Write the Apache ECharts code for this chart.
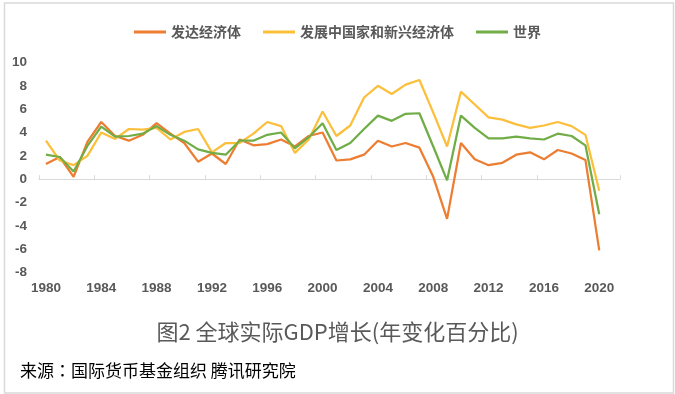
<!DOCTYPE html>
<html>
<head>
<meta charset="utf-8">
<script src="https://cdn.jsdelivr.net/npm/echarts@6/dist/echarts.min.js"></script>
<style>
html,body{margin:0;padding:0;background:#fff;}
#chart{width:675px;height:394px;}
</style>
</head>
<body>
<div id="chart"></div>
<script>
const years = ['1980','1981','1982','1983','1984','1985','1986','1987','1988','1989',
  '1990','1991','1992','1993','1994','1995','1996','1997','1998','1999',
  '2000','2001','2002','2003','2004','2005','2006','2007','2008','2009',
  '2010','2011','2012','2013','2014','2015','2016','2017','2018','2019',
  '2020','2021'];
const developed = [1.3,1.9,0.2,3.2,4.9,3.7,3.3,3.8,4.8,3.9,
  3.1,1.5,2.2,1.3,3.4,2.9,3.0,3.4,2.8,3.7,
  4.0,1.6,1.7,2.1,3.3,2.8,3.1,2.7,0.2,-3.4,
  3.1,1.7,1.2,1.4,2.1,2.3,1.7,2.5,2.2,1.65,
  -6.1];
const emerging = [3.3,1.6,1.2,2.0,4.0,3.45,4.3,4.25,4.4,3.4,
  4.05,4.3,2.3,3.1,3.1,3.9,4.9,4.55,2.25,3.4,
  5.8,3.7,4.6,7.0,8.0,7.3,8.1,8.5,5.7,2.8,
  7.5,6.4,5.3,5.1,4.7,4.4,4.6,4.9,4.55,3.8,
  -1.0];
const world = [2.1,1.9,0.65,2.85,4.5,3.65,3.7,3.9,4.55,3.8,
  3.3,2.55,2.25,2.1,3.3,3.3,3.8,4.0,2.65,3.6,
  4.8,2.5,3.1,4.3,5.45,5.0,5.6,5.65,2.8,-0.1,
  5.45,4.4,3.5,3.5,3.65,3.5,3.4,3.9,3.7,2.9,
  -3.0];
const seriesNames = ['发达经济体','发展中国家和新兴经济体','世界'];
const chartTitle = '图2 全球实际GDP增长(年变化百分比)';
const sourceText = '来源：国际货币基金组织 腾讯研究院';

const colors = ['#ED7D31','#FBBF3B','#70AD47'];
const cjk = '"Noto Sans CJK SC", sans-serif';
const cjkTC = '"Noto Sans CJK TC", "Noto Sans CJK SC", sans-serif';
const latin = '"Liberation Sans", Arial, sans-serif';

const chart = echarts.init(document.getElementById('chart'), null, {renderer:'canvas'});
const mk = (name, data, i) => ({
  name: name, type: 'line', data: data, xAxisIndex: 0, yAxisIndex: 0,
  symbol: 'none', smooth: false,
  lineStyle: {color: colors[i], width: 2.25},
  itemStyle: {color: colors[i]},
  animation: false
});
chart.setOption({
  animation: false,
  color: colors,
  legend: {
    data: seriesNames,
    top: 20,
    left: 'center',
    icon: 'rect',
    itemWidth: 32,
    itemHeight: 3,
    itemGap: 22,
    textStyle: {fontFamily: cjk, fontSize: 14, fontWeight: 'bold', color: '#595959'}
  },
  grid: {left: 39, right: 55, top: 62.5, bottom: 121.5, containLabel: false},
  xAxis: [
    {
      type: 'category', data: years, boundaryGap: true,
      axisLine: {onZero: true, lineStyle: {color: '#d9d9d9', width: 1.2}},
      axisTick: {show: true, inside: true, length: 4, interval: 3, lineStyle: {color: '#d9d9d9'}},
      axisLabel: {show: false},
      splitLine: {show: false}
    },
    {
      type: 'category', data: years, boundaryGap: true, position: 'bottom',
      axisLine: {show: false, onZero: false},
      axisTick: {show: false},
      axisLabel: {show: true, interval: 3, margin: 9, fontFamily: latin, fontSize: 13.5, fontWeight: 'bold', color: '#595959'},
      splitLine: {show: false}
    }
  ],
  yAxis: {
    type: 'value', min: -8, max: 10, interval: 2,
    axisLine: {show: false}, axisTick: {show: false},
    splitLine: {show: false},
    axisLabel: {margin: 12, fontFamily: latin, fontSize: 13.5, fontWeight: 'bold', color: '#595959'}
  },
  series: [mk(seriesNames[0], developed, 0), mk(seriesNames[1], emerging, 1), mk(seriesNames[2], world, 2)],
  graphic: [
    {type: 'rect', left: 2, top: 0.5, silent: true,
      shape: {width: 669, height: 390},
      style: {fill: 'none', stroke: '#d9d9d9', lineWidth: 1.5}},
    {type: 'text', left: 'center', top: 321, silent: true,
      style: {text: chartTitle, font: '22px ' + cjk, fill: '#595959'}},
    {type: 'text', left: 20, top: 362, silent: true,
      style: {text: sourceText, font: '17px ' + cjkTC, fill: '#000000'}}
  ]
});
</script>
</body>
</html>
